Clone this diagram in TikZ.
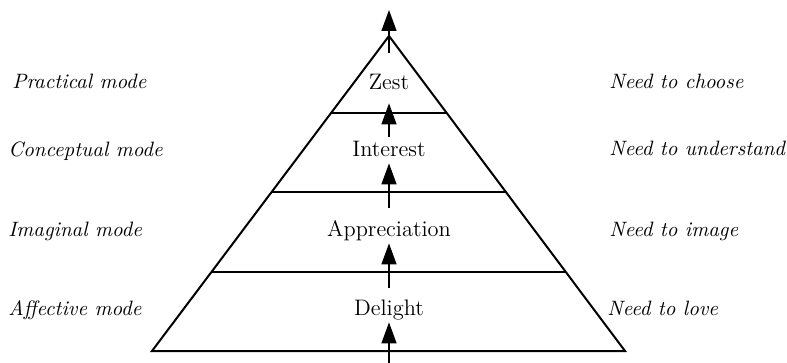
\documentclass[tikz,border=0pt]{standalone}
\usepackage{tikz}
\usetikzlibrary{
  arrows.meta,%
  calc
}
\tikzset{>={Triangle[length=10.5pt, width=7.5pt]}}
\tikzset{level/.style={font=\fontsize{11.2}{13}\selectfont, inner sep=0pt,
  anchor=base, text height=8pt, text depth=2.5pt}}
\tikzset{side/.style={font=\fontsize{10.4}{13}\selectfont\itshape, inner sep=0pt,
  anchor=base west}}
\tikzset{climb/.style={->, line width=0.7pt}}

\begin{document}
\begin{tikzpicture}[x=0.5pt, y=-0.5pt]
  \useasboundingbox (0, 0) rectangle (787, 363);
  % the pyramid
  \coordinate (apex) at (389, 36);
  \draw[line width=1pt, line join=miter] (apex) -- (152, 351) -- (625, 351) -- cycle; %
  \draw[line width=0.75pt] (331, 113) -- (447, 113); %
  \draw[line width=0.75pt] (272, 192) -- (506, 192); %
  \draw[line width=0.75pt] (211, 272) -- (566, 272); %
  % levels
  \node[level] (zest) at (389, 90) {Zest};
  \node[level] (interest) at (389, 157) {Interest};
  \node[level] (appreciation) at (389, 237) {Appreciation};
  \node[level] (delight) at (389, 315) {Delight};
  % modes and needs
  \node[side] (practical) at (12, 89) {Practical mode};
  \node[side] (conceptual) at (8, 157) {Conceptual mode};
  \node[side] (imaginal) at (8, 237) {Imaginal mode};
  \node[side] (affective) at (8, 315) {Affective mode};
  \node[side] (choose) at (609, 89) {Need to choose};
  \node[side] (understand) at (609, 156) {Need to understand};
  \node[side] (image) at (609, 237) {Need to image};
  \node[side] (love) at (607, 315) {Need to love};
  % arrows up the pyramid
  \coordinate (top) at (389, 10);
  \coordinate (bottom) at (389, 363);
  \draw[climb, shorten <=10.5pt] (zest) -- (top); %
  \draw[climb, shorten <=2pt, shorten >=4pt] (interest) -- (zest); %
  \draw[climb, shorten <=6.5pt, shorten >=0.5pt] (appreciation) -- (interest); %
  \draw[climb, shorten <=5.5pt, shorten >=0.5pt] (delight) -- (appreciation); %
  \draw[climb, shorten >=1pt] (bottom) -- (delight); %
\end{tikzpicture}
\end{document}
